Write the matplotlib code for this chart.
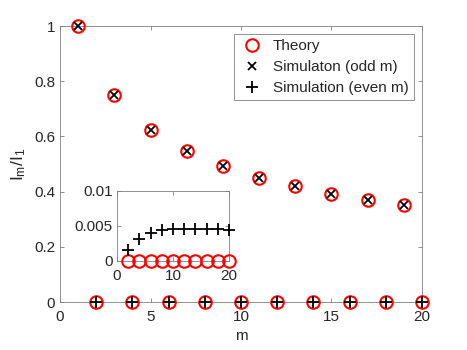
import matplotlib
matplotlib.use('Agg')
import matplotlib.pyplot as plt

# data
m_all = list(range(1, 21))
theory = [1.0, 0, 0.75, 0, 0.625, 0, 0.547, 0, 0.492, 0,
          0.451, 0, 0.419, 0, 0.393, 0, 0.371, 0, 0.352, 0]
m_odd = [1, 3, 5, 7, 9, 11, 13, 15, 17, 19]
sim_odd = [1.0, 0.75, 0.625, 0.547, 0.492, 0.451, 0.419, 0.393, 0.371, 0.352]
m_even = [2, 4, 6, 8, 10, 12, 14, 16, 18, 20]
sim_even = [0.00157, 0.0031, 0.00405, 0.00443, 0.00462,
            0.00462, 0.00462, 0.00457, 0.00452, 0.00448]
theory_even = [0] * 10

plt.rcParams['font.family'] = ['Liberation Sans', 'DejaVu Sans']
plt.rcParams['font.size'] = 11
axcol = '#262626'
grey = '#808080'

fig = plt.figure(figsize=(4.67, 3.5), dpi=100)
ax = fig.add_axes([60/467, 1 - 302/350, 362/467, 276/350])

ax.plot(m_all, theory, 'o', mfc='none', mec='red', ms=9, mew=1.5,
        ls='none', label='Theory', clip_on=False, zorder=3)
ax.plot(m_odd, sim_odd, 'x', color='black', ms=6, mew=1.3,
        ls='none', label='Simulaton (odd m)', clip_on=False, zorder=4)
ax.plot(m_even, [0] * 10, '+', color='black', ms=9, mew=1.3,
        ls='none', label='Simulation (even m)', clip_on=False, zorder=4)

ax.set_xlim(0, 20)
ax.set_ylim(0, 1)
ax.set_xticks([0, 5, 10, 15, 20])
ax.set_yticks([0, 0.2, 0.4, 0.6, 0.8, 1])
ax.set_yticklabels(['0', '0.2', '0.4', '0.6', '0.8', '1'])
ax.set_xlabel('m', color=axcol, labelpad=3)
ax.set_ylabel(r'$\mathregular{I_m/I_1}$', color=axcol, fontsize=12.5,
              labelpad=4)
ax.tick_params(direction='in', top=True, right=True, length=3,
               color=grey, labelcolor=axcol, width=0.6)
ax.tick_params(axis='x', pad=6)
for s in ax.spines.values():
    s.set_color(grey)
    s.set_linewidth(0.6)

leg = ax.legend(loc='upper right', bbox_to_anchor=(414/467, 1 - 34/350),
                bbox_transform=fig.transFigure, borderaxespad=0,
                fancybox=False, edgecolor=grey, framealpha=1,
                borderpad=0.35, handletextpad=0.6, labelspacing=0.45,
                handlelength=1.6)
leg.get_frame().set_linewidth(0.6)
for t in leg.get_texts():
    t.set_color(axcol)

# inset
ins = fig.add_axes([117/467, 1 - 261/350, 112/467, 70/350])
ins.plot(m_even, theory_even, 'o', mfc='none', mec='red', ms=9, mew=1.5,
         ls='none', clip_on=False, zorder=3)
ins.plot(m_even, sim_even, '+', color='black', ms=9, mew=1.3,
         ls='none', clip_on=False, zorder=4)
ins.set_xlim(0, 20)
ins.set_ylim(0, 0.01)
ins.set_xticks([0, 10, 20])
ins.set_yticks([0, 0.005, 0.01])
ins.set_yticklabels(['0', '0.005', '0.01'])
ins.tick_params(direction='in', top=True, right=True, length=3,
                color=grey, labelcolor=axcol, width=0.6, pad=3)
ins.tick_params(axis='x', pad=6)
for s in ins.spines.values():
    s.set_color(grey)
    s.set_linewidth(0.6)

fig.savefig('out.png', dpi=100)
